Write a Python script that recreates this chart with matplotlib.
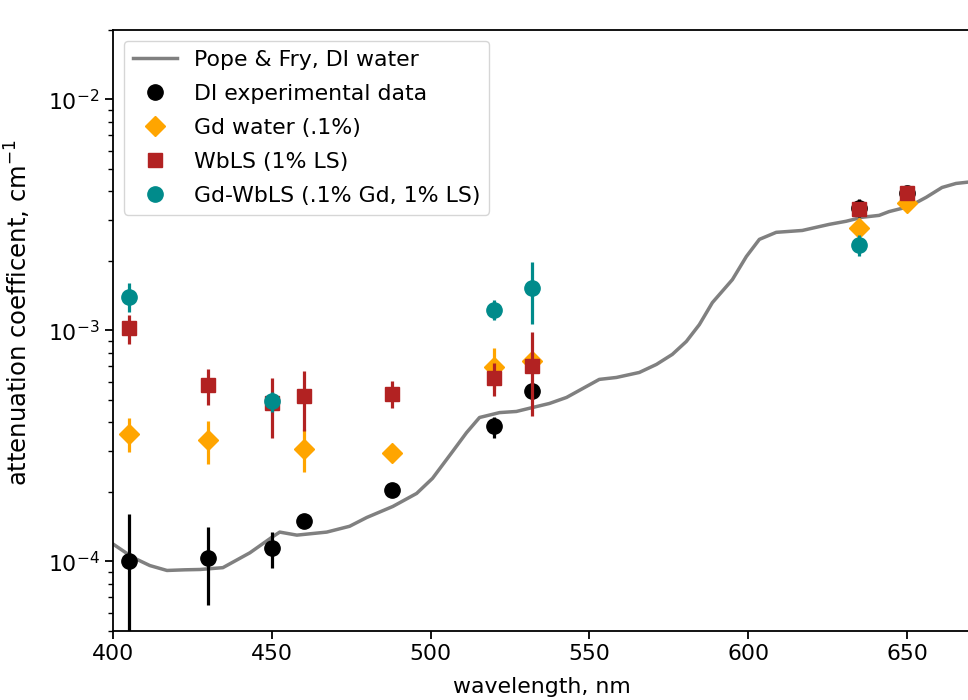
import matplotlib
matplotlib.use("Agg")
import matplotlib.pyplot as plt
from matplotlib.lines import Line2D
import numpy as np

# Pope & Fry curve (traced)
pf_wl = [400.0, 406.3, 411.6, 417.0, 422.6, 427.4, 434.6, 443.1, 450.3, 452.5, 457.9,
         467.3, 474.5, 479.9, 488.1, 495.6, 500.6, 506.9, 511.3, 515.4, 521.7, 527.0,
         532.1, 537.4, 542.8, 553.1, 558.5, 565.7, 571.1, 576.1, 580.5, 584.6, 588.7,
         595.0, 599.4, 603.5, 608.8, 617.0, 625.5, 630.8, 635.8, 641.2, 644.3, 650.6,
         656.0, 661.0, 665.4, 670.0]
pf_val = [1.19e-4, 1.04e-4, 9.6e-5, 9.14e-5, 9.2e-5, 9.23e-5, 9.4e-5, 1.09e-4, 1.28e-4,
          1.34e-4, 1.30e-4, 1.34e-4, 1.42e-4, 1.55e-4, 1.73e-4, 1.97e-4, 2.29e-4, 2.99e-4,
          3.61e-4, 4.20e-4, 4.41e-4, 4.46e-4, 4.64e-4, 4.83e-4, 5.13e-4, 6.14e-4, 6.26e-4,
          6.58e-4, 7.13e-4, 7.88e-4, 8.96e-4, 1.06e-3, 1.32e-3, 1.66e-3, 2.09e-3, 2.48e-3,
          2.66e-3, 2.71e-3, 2.88e-3, 2.97e-3, 3.09e-3, 3.15e-3, 3.27e-3, 3.44e-3, 3.77e-3,
          4.16e-3, 4.33e-3, 4.40e-3]

# DI experimental data
di_wl = [405, 430, 450, 460, 488, 520, 532, 635, 650]
di_val = [1.00e-4, 1.03e-4, 1.14e-4, 1.49e-4, 2.03e-4, 3.84e-4, 5.45e-4, 3.40e-3, 3.95e-3]
di_err = [0.6e-4, 0.38e-4, 0.2e-4, 0.0, 0.0, 0.4e-4, 0.0, 0.3e-3, 0.2e-3]

# Gd water (.1%)
gd_wl = [405, 430, 460, 488, 520, 532, 635, 650]
gd_val = [3.58e-4, 3.34e-4, 3.08e-4, 2.96e-4, 6.98e-4, 7.4e-4, 2.77e-3, 3.58e-3]
gd_err = [0.6e-4, 0.7e-4, 0.65e-4, 0.0, 1.4e-4, 0.0, 0.2e-3, 0.2e-3]

# WbLS (1% LS)
wb_wl = [405, 430, 450, 460, 488, 520, 532, 635, 650]
wb_val = [1.02e-3, 5.78e-4, 4.83e-4, 5.18e-4, 5.33e-4, 6.2e-4, 7.05e-4, 3.34e-3, 3.95e-3]
wb_err = [0.15e-3, 0.1e-3, 0.14e-3, 0.15e-3, 0.07e-3, 0.1e-3, 0.28e-3, 0.2e-3, 0.2e-3]

# Gd-WbLS (.1% Gd, 1% LS)
gw_wl = [405, 450, 520, 532, 635]
gw_val = [1.40e-3, 4.93e-4, 1.23e-3, 1.52e-3, 2.35e-3]
gw_err = [0.2e-3, 0.05e-3, 0.12e-3, 0.45e-3, 0.25e-3]

labels = ["Pope & Fry, DI water", "DI experimental data", "Gd water (.1%)",
          "WbLS (1% LS)", "Gd-WbLS (.1% Gd, 1% LS)"]

c_line = "#808080"
c_di = "black"
c_gd = "#FFA500"
c_wb = "#B22222"
c_gw = "#008B8B"

ms_o, ms_s, ms_d = 11, 9.8, 9.8
fs = 15.8

plt.rcParams['font.family'] = ['DejaVu Sans']
fig = plt.figure(figsize=(9.68, 7.0), dpi=100)
ax = fig.add_axes([0.1167, 0.0986, 0.886, 0.8586])

ax.plot(pf_wl, pf_val, color=c_line, lw=2.5, zorder=1)
ax.errorbar(di_wl, di_val, yerr=di_err, fmt='o', color=c_di, ms=ms_o, elinewidth=2.3, capsize=0, zorder=2)
ax.errorbar(gd_wl, gd_val, yerr=gd_err, fmt='D', color=c_gd, ms=ms_d, elinewidth=2.3, capsize=0, zorder=3)
ax.errorbar(wb_wl, wb_val, yerr=wb_err, fmt='s', color=c_wb, ms=ms_s, elinewidth=2.3, capsize=0, zorder=4)
ax.errorbar(gw_wl, gw_val, yerr=gw_err, fmt='o', color=c_gw, ms=ms_o, elinewidth=2.3, capsize=0, zorder=5)

ax.set_yscale('log')
ax.set_xlim(400, 670)
ax.set_ylim(5e-5, 2e-2)
ax.set_xticks([400, 450, 500, 550, 600, 650])
ax.tick_params(labelsize=fs, width=1.3, length=6)
ax.tick_params(which='minor', width=1.0, length=3.6)
for s in ax.spines.values():
    s.set_linewidth(1.3)
ax.set_xlabel("wavelength, nm", fontsize=fs, labelpad=9)
ax.set_ylabel("attenuation coefficent, cm$^{-1}$", fontsize=17.5)
ax.yaxis.set_label_coords(-0.093, 0.529)

handles = [
    Line2D([], [], color=c_line, lw=2.5),
    Line2D([], [], ls='none', marker='o', color=c_di, ms=ms_o),
    Line2D([], [], ls='none', marker='D', color=c_gd, ms=ms_d),
    Line2D([], [], ls='none', marker='s', color=c_wb, ms=ms_s),
    Line2D([], [], ls='none', marker='o', color=c_gw, ms=ms_o),
]
ax.legend(handles, labels, loc='upper left', fontsize=fs, handlelength=2.0, labelspacing=0.64)

fig.savefig("out.png", dpi=100)
